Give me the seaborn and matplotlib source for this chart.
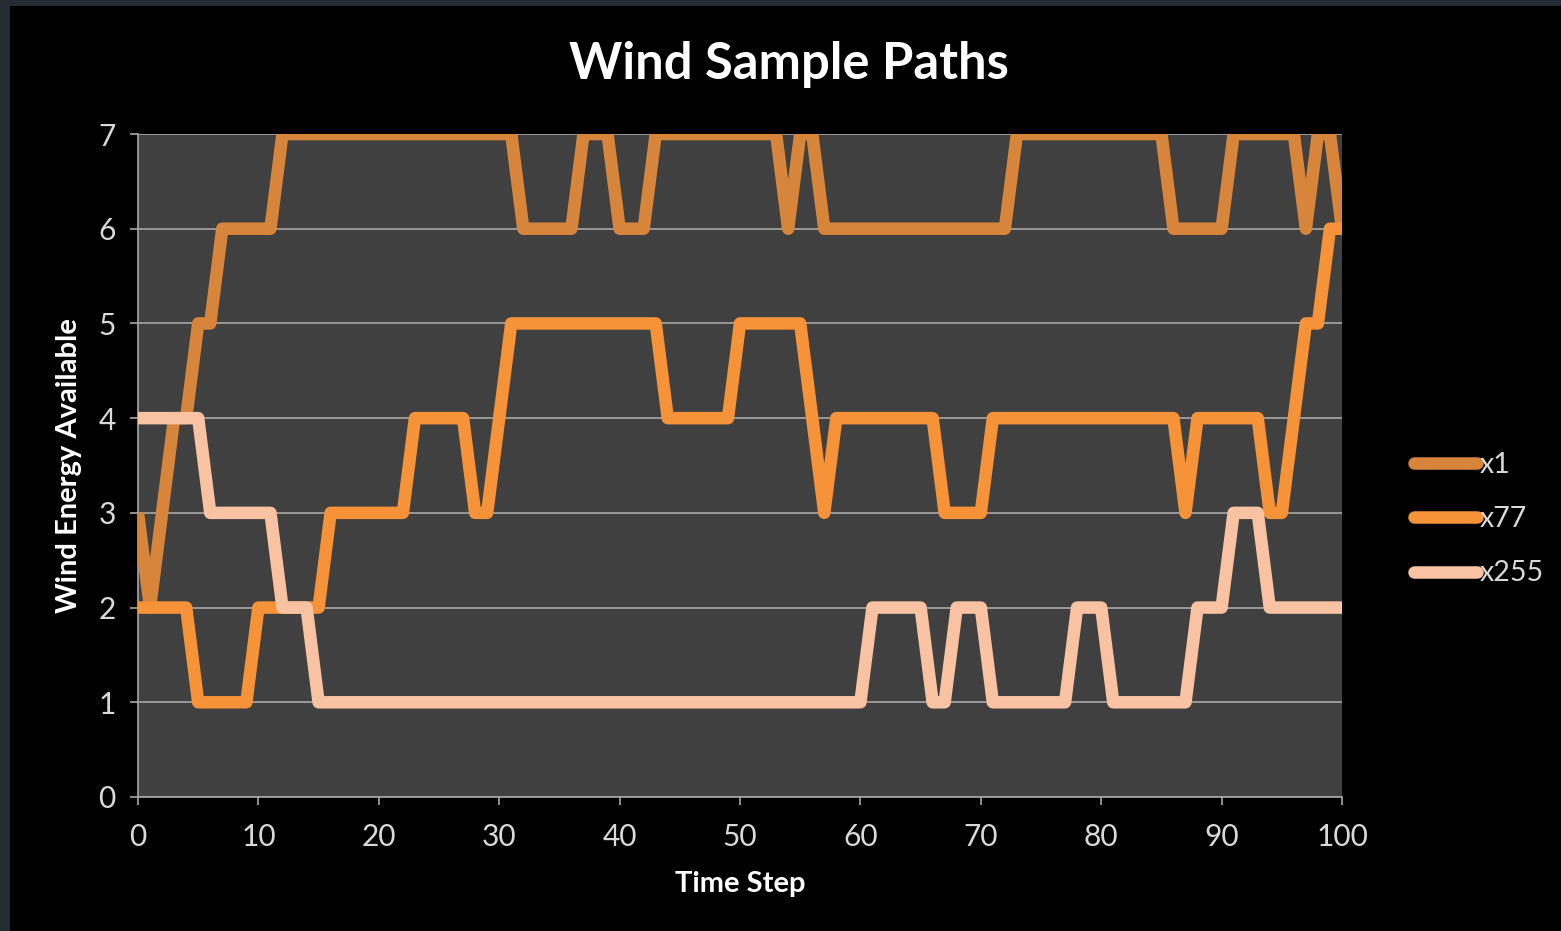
import numpy as np
import pandas as pd
import matplotlib
matplotlib.use("Agg")
import matplotlib.pyplot as plt
from matplotlib.lines import Line2D
from matplotlib.patches import Rectangle
import seaborn as sns

# Time steps 0..100
steps = list(range(101))

# Sample paths of available wind energy
x1 = [3, 2, 3, 4, 4, 5, 5, 6, 6, 6,
      6, 6, 7, 7, 7, 7, 7, 7, 7, 7,
      7, 7, 7, 7, 7, 7, 7, 7, 7, 7,
      7, 7, 6, 6, 6, 6, 6, 7, 7, 7,
      6, 6, 6, 7, 7, 7, 7, 7, 7, 7,
      7, 7, 7, 7, 6, 7, 7, 6, 6, 6,
      6, 6, 6, 6, 6, 6, 6, 6, 6, 6,
      6, 6, 6, 7, 7, 7, 7, 7, 7, 7,
      7, 7, 7, 7, 7, 7, 6, 6, 6, 6,
      6, 7, 7, 7, 7, 7, 7, 6, 7, 7,
      6]
x77 = [2, 2, 2, 2, 2, 1, 1, 1, 1, 1,
       2, 2, 2, 2, 2, 2, 3, 3, 3, 3,
       3, 3, 3, 4, 4, 4, 4, 4, 3, 3,
       4, 5, 5, 5, 5, 5, 5, 5, 5, 5,
       5, 5, 5, 5, 4, 4, 4, 4, 4, 4,
       5, 5, 5, 5, 5, 5, 4, 3, 4, 4,
       4, 4, 4, 4, 4, 4, 4, 3, 3, 3,
       3, 4, 4, 4, 4, 4, 4, 4, 4, 4,
       4, 4, 4, 4, 4, 4, 4, 3, 4, 4,
       4, 4, 4, 4, 3, 3, 4, 5, 5, 6,
       6]
x255 = [4, 4, 4, 4, 4, 4, 3, 3, 3, 3,
        3, 3, 2, 2, 2, 1, 1, 1, 1, 1,
        1, 1, 1, 1, 1, 1, 1, 1, 1, 1,
        1, 1, 1, 1, 1, 1, 1, 1, 1, 1,
        1, 1, 1, 1, 1, 1, 1, 1, 1, 1,
        1, 1, 1, 1, 1, 1, 1, 1, 1, 1,
        1, 2, 2, 2, 2, 2, 1, 1, 2, 2,
        2, 1, 1, 1, 1, 1, 1, 1, 2, 2,
        2, 1, 1, 1, 1, 1, 1, 1, 2, 2,
        2, 3, 3, 3, 2, 2, 2, 2, 2, 2,
        2]

series_names = ["x1", "x77", "x255"]
series_colors = ["#D8853C", "#F69238", "#F9C3A3"]
x_ticks = list(range(0, 101, 10))
y_ticks = list(range(0, 8))

df = pd.DataFrame({
    "Time Step": steps * 3,
    "Wind Energy Available": x1 + x77 + x255,
    "series": ["x1"] * 101 + ["x77"] * 101 + ["x255"] * 101,
})

sns.set_theme(style="dark")
plt.rcParams["font.family"] = ["Lato", "DejaVu Sans"]

W, H = 1561, 931
fig = plt.figure(figsize=(W / 100, H / 100), dpi=100)
fig.patch.set_facecolor("#252B33")
# black chart area inside a thin slate frame
fig.patches.append(Rectangle((10 / W, 0), 1 - 10 / W, 1 - 6 / H,
                             transform=fig.transFigure, facecolor="black",
                             edgecolor="none", zorder=-5))

ax = fig.add_axes([138 / W, 1 - 797 / H, (1342 - 138) / W, (797 - 134) / H])
ax.set_facecolor("#404040")

palette = dict(zip(series_names, series_colors))
sns.lineplot(data=df, x="Time Step", y="Wind Energy Available", hue="series",
             hue_order=series_names, palette=palette, linewidth=9,
             legend=False, ax=ax)
for ln in ax.lines:
    ln.set_solid_joinstyle("round")
    ln.set_solid_capstyle("butt")
    ln.set_zorder(3)

ax.set_xlim(0, 100)
ax.set_ylim(0, 7)
ax.set_xticks(x_ticks)
ax.set_yticks(y_ticks)
ax.grid(axis="y", color="#A8A8A8", linewidth=1.2)
ax.grid(axis="x", visible=False)
ax.set_axisbelow(True)

for side in ["top", "right"]:
    ax.spines[side].set_visible(False)
for side in ["left", "bottom"]:
    ax.spines[side].set_visible(True)
    ax.spines[side].set_color("#A8A8A8")
    ax.spines[side].set_linewidth(1.2)

ax.tick_params(axis="both", colors="#A8A8A8", labelcolor="#D9D9D9",
               labelsize=21.5, length=6, width=1.2, direction="out")
ax.tick_params(axis="x", pad=13)
ax.tick_params(axis="y", pad=10)
ax.tick_params(bottom=True, left=True)

ax.set_xlabel("Time Step", color="white", fontsize=21, fontweight="bold",
              labelpad=14)
ax.set_ylabel("Wind Energy Available", color="white", fontsize=21,
              fontweight="bold", labelpad=12)

fig.text(789 / W, 1 - 65 / H, "Wind Sample Paths", color="white",
         fontsize=36.5, fontweight="bold", ha="center", va="center")

handles = [Line2D([0], [0], color=c, linewidth=9, solid_capstyle="round")
           for c in series_colors]
leg = fig.legend(handles, series_names, loc="center left",
                 bbox_to_anchor=(1414 / W, 1 - 519 / H), frameon=False,
                 fontsize=20.5, handlelength=2.2, handletextpad=0.1,
                 labelspacing=1.0, borderpad=0, borderaxespad=0)
for t in leg.get_texts():
    t.set_color("#D9D9D9")

fig.savefig("out.png", dpi=100, facecolor=fig.get_facecolor())
